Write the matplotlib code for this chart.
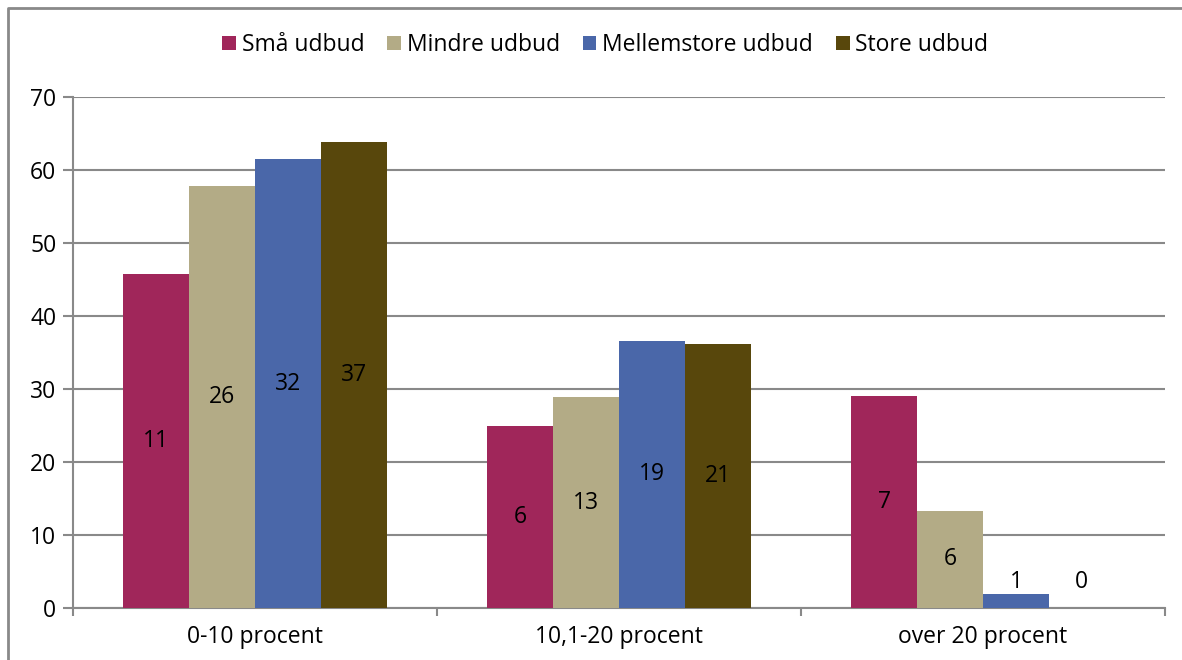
import numpy as np
import matplotlib
matplotlib.use('Agg')
from matplotlib import pyplot as plt
from matplotlib.lines import Line2D

plt.rcParams['font.family'] = ['Open Sans', 'DejaVu Sans']

# data
categories = ['0-10 procent', '10,1-20 procent', 'over 20 procent']
series = ['Små udbud', 'Mindre udbud', 'Mellemstore udbud', 'Store udbud']
smaa = [45.8, 25.0, 29.1]
mindre = [57.8, 28.9, 13.3]
mellem = [61.5, 36.6, 1.9]
store = [63.8, 36.2, 0.0]
# antal (labels on bars)
n_smaa = [11, 6, 7]
n_mindre = [26, 13, 6]
n_mellem = [32, 19, 1]
n_store = [37, 21, 0]

values = [smaa, mindre, mellem, store]
counts = [n_smaa, n_mindre, n_mellem, n_store]
colors = ['#A0265A', '#B3AB86', '#4A67A9', '#58470C']
fs = 16.5

fig = plt.figure(figsize=(11.82, 6.6), dpi=100)
ax = fig.add_axes([0.0618, 0.0788, 0.9238, 0.7742])

x = np.arange(len(categories))
w = 0.181
for i, (vals, cnts, c) in enumerate(zip(values, counts, colors)):
    pos = x + (i - 1.5) * w
    ax.bar(pos, vals, width=w, color=c, label=series[i], zorder=3)
    for p, v, n in zip(pos, vals, cnts):
        # small bars get their label just above the bar
        y = v / 2 if v > 7 else 3.6
        ax.text(p, y, str(n), ha='center', va='center', fontsize=fs,
                color='black', zorder=4)

ax.set_xlim(-0.5, 2.5)
ax.set_ylim(0, 70)
ax.set_yticks(range(0, 71, 10))
ax.yaxis.grid(True, color='#898989', linewidth=1.5, zorder=0)
ax.set_axisbelow(True)

ax.set_xticks(x)
ax.set_xticklabels(categories)
ax.set_xticks([-0.5, 0.5, 1.5, 2.5], minor=True)
ax.tick_params(axis='x', which='major', length=0, pad=12, labelsize=fs)
ax.tick_params(axis='x', which='minor', length=6, width=1.5, color='#898989')
ax.tick_params(axis='y', length=7, width=1.5, color='#898989', labelsize=fs, pad=5)

for s in ['top', 'right']:
    ax.spines[s].set_visible(False)
for s in ['left', 'bottom']:
    ax.spines[s].set_color('#898989')
    ax.spines[s].set_linewidth(1.5)

leg = fig.legend(loc='center', bbox_to_anchor=(0.512, 0.932), ncol=4, frameon=False,
                 fontsize=fs, handlelength=0.6, handleheight=0.6,
                 handletextpad=0.25, columnspacing=1.0)

# outer chart frame (left and top edges)
fig.add_artist(Line2D([0.0068, 0.0068, 1.0], [0.0, 0.988, 0.988],
                      transform=fig.transFigure, color='#898989', linewidth=2))

fig.savefig('out.png', dpi=100, facecolor='white')
